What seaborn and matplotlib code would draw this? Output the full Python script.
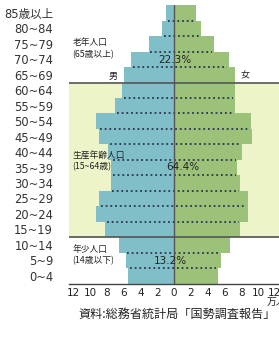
import pandas as pd
import numpy as np
import matplotlib
matplotlib.use("Agg")
import matplotlib.pyplot as plt
import seaborn as sns

# age groups, top to bottom (万人)
ages = ["85歳以上", "80~84", "75~79", "70~74", "65~69", "60~64", "55~59",
        "50~54", "45~49", "40~44", "35~39", "30~34", "25~29", "20~24",
        "15~19", "10~14", "5~9", "0~4"]
male = [0.91, 1.43, 3.02, 5.08, 5.99, 6.2, 7.0, 9.25, 8.97, 7.86, 7.46,
        7.54, 8.93, 9.25, 8.17, 6.59, 5.75, 5.48]
female = [2.62, 3.2, 4.76, 6.51, 7.26, 7.26, 7.26, 9.21, 9.29, 8.13, 7.54,
          7.9, 8.81, 8.81, 7.9, 6.63, 5.56, 5.24]
group_names = ["老年人口\n(65歳以上)", "生産年齢人口\n(15~64歳)", "年少人口\n(14歳以下)"]
group_shares = ["22.3%", "64.4%", "13.2%"]
xticks = list(range(-12, 13, 2))

sns.set_style("white")
plt.rcParams["font.family"] = ["DejaVu Sans", "Noto Sans CJK JP"]
jp = ["Noto Sans CJK JP", "DejaVu Sans"]

df = pd.DataFrame({
    "age": ages * 2,
    "sex": ["男"] * len(ages) + ["女"] * len(ages),
    "value": [-v for v in male] + female,
})

fig = plt.figure(figsize=(2.79, 3.38), dpi=100)
ax = fig.add_axes([0.2473, 0.1612, 0.7527, 0.8232])

sns.barplot(data=df, x="value", y="age", hue="sex", order=ages, dodge=False,
            palette={"男": "#74c8d3", "女": "#9ccd6d"}, width=1.0,
            errorbar=None, orient="h", linewidth=0, legend=False, ax=ax, zorder=2)

ax.set_xlim(-12.5, 12.5)
ax.set_ylim(len(ages) - 0.5, -0.5)

# working-age band and group separators
ax.axhspan(4.5, 14.5, color="#eef4c9", zorder=0)
for yb in (4.5, 14.5):
    ax.axhline(yb, color="#555555", lw=1.2, zorder=3)
ax.axvline(0, color="#555555", lw=1.0, zorder=4)

# dotted row separators inside each group
groups = [(0, 4), (5, 14), (15, 17)]
for g0, g1 in groups:
    for i in range(g0, g1):
        lm = min(male[i], male[i + 1]) - 0.2
        rf = min(female[i], female[i + 1]) - 0.2
        ax.plot([-lm, rf], [i + 0.5, i + 0.5], color="#2b3550", lw=1.3,
                linestyle=(0, (1, 1.6)), zorder=3)

# group labels
label_rows = [2.3, 9.6, 15.65]
share_pos = [(0.1, 3.05), (1.1, 9.95), (-0.45, 16.05)]
for name, yr in zip(group_names, label_rows):
    ax.text(-12.1, yr, name, fontsize=6.3, ha="left", va="center",
            linespacing=1.35, color="#222222", family=jp, zorder=5)
for s, (xs, ys) in zip(group_shares, share_pos):
    ax.text(xs, ys, s, fontsize=7.5, ha="center", va="center",
            color="#222222", zorder=5)
ax.text(-7.25, 4.1, "男", fontsize=6.5, ha="center", va="center", family=jp, color="#222222")
ax.text(8.45, 4.1, "女", fontsize=6.5, ha="center", va="center", family=jp, color="#222222")

# axes styling
for side in ("top", "right", "left"):
    ax.spines[side].set_visible(False)
ax.spines["bottom"].set_color("#444444")
ax.spines["bottom"].set_linewidth(1.0)
ax.set_xticks(xticks)
ax.set_xticklabels([str(abs(t)) for t in xticks])
ax.tick_params(axis="x", direction="in", length=3, width=0.8, color="#444444",
               labelsize=7.5, pad=3.5, labelcolor="#222222")
ax.tick_params(axis="y", length=0, labelsize=8.3, pad=11.5, labelcolor="#333333")
ax.set_xlabel("")
ax.set_ylabel("")

fig.text(267 / 279, 1 - 302 / 338, "万人", fontsize=7, ha="left", va="center",
         family=jp, color="#222222")
fig.text(276 / 279, 1 - 314 / 338, "資料:総務省統計局「国勢調査報告」", fontsize=8.7,
         ha="right", va="center", family=jp, color="#222222")

fig.savefig("out.png", dpi=100)
